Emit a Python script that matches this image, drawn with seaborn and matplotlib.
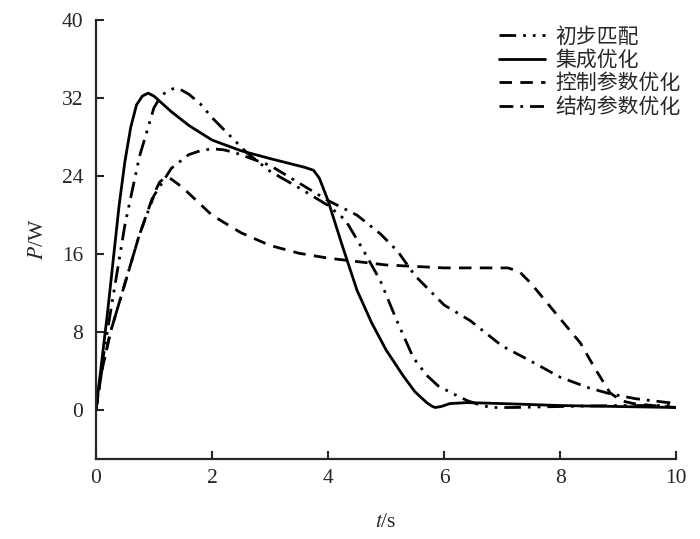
import matplotlib
matplotlib.use("Agg")
import matplotlib.pyplot as plt
import pandas as pd
import seaborn as sns

# time points (s) and power (W)
t_init = [0, 0.1, 0.25, 0.5, 0.75, 1.0, 1.1, 1.2, 1.3, 1.36, 1.45, 1.6, 1.8, 2.0, 2.3, 2.6, 3.0,
          3.5, 4.0, 4.3, 4.6, 4.9, 5.2, 5.47, 5.7, 5.9, 6.16, 6.4, 6.6, 6.8, 7.2, 8.0, 9.0, 10.0]
p_init = [0, 4.5, 10, 19, 26, 31, 32.0, 32.6, 32.9, 33.0, 32.9, 32.4, 31.4, 30.0, 28.2, 26.4, 24.5,
          22.8, 21.0, 19.5, 16.5, 13.3, 9.0, 5.4, 3.6, 2.5, 1.7, 1.0, 0.6, 0.3, 0.3, 0.4, 0.5, 0.5]

t_integ = [0, 0.1, 0.2, 0.3, 0.4, 0.5, 0.6, 0.7, 0.8, 0.9, 1.0, 1.15, 1.3, 1.6, 2.0, 2.5, 3.0, 3.4,
           3.6, 3.75, 3.85, 4.0, 4.25, 4.5, 4.75, 5.0, 5.3, 5.5, 5.7, 5.8, 5.85, 5.95, 6.1, 6.4,
           7.0, 8.0, 9.0, 10.0]
p_integ = [0, 5, 10, 15.5, 21, 25.5, 29, 31.3, 32.2, 32.5, 32.2, 31.4, 30.6, 29.2, 27.7, 26.6, 25.8,
           25.2, 24.9, 24.6, 23.8, 21.5, 16.8, 12.3, 9.0, 6.2, 3.5, 1.9, 0.8, 0.4, 0.3, 0.4, 0.7, 0.8,
           0.7, 0.5, 0.4, 0.3]

t_ctrl = [0, 0.1, 0.25, 0.5, 0.75, 1.0, 1.1, 1.2, 1.3, 1.5, 2.0, 2.5, 3.0, 3.5, 4.0, 5.0, 6.0, 6.8,
          7.1, 7.3, 7.5, 7.75, 8.0, 8.35, 8.6, 8.86, 9.05, 9.26, 9.6, 10.0]
p_ctrl = [0, 4, 8, 13, 18, 22.2, 23.4, 23.9, 23.7, 22.8, 20.0, 18.2, 16.9, 16.1, 15.6, 14.9, 14.6,
          14.6, 14.6, 14.2, 13.0, 11.2, 9.4, 6.9, 4.3, 1.8, 1.0, 0.7, 0.5, 0.3]

t_struct = [0, 0.1, 0.25, 0.5, 0.75, 1.0, 1.3, 1.6, 1.8, 2.0, 2.2, 2.4, 3.0, 3.5, 4.0, 4.5, 4.9,
            5.2, 5.5, 6.0, 6.45, 7.0, 7.48, 8.0, 8.5, 8.86, 9.3, 10.0]
p_struct = [0, 4, 8, 13, 18, 22.0, 24.8, 26.2, 26.6, 26.8, 26.7, 26.4, 25.1, 23.3, 21.5, 20.0, 18.1,
            16.3, 13.8, 10.8, 9.2, 6.6, 5.1, 3.4, 2.3, 1.7, 1.2, 0.7]

labels = ["初步匹配", "集成优化", "控制参数优化", "结构参数优化"]
series = [(t_init, p_init), (t_integ, p_integ), (t_ctrl, p_ctrl), (t_struct, p_struct)]
dash_styles = [(6, 2.5, 1.0, 2.5, 1.0, 2.5), "", (4.5, 3), (5, 2.5, 1.0, 2.5)]

sns.set_style("ticks")
plt.rcParams["font.family"] = ["Liberation Serif", "Noto Sans CJK SC"]
plt.rcParams["mathtext.fontset"] = "stix"

fig, ax = plt.subplots(figsize=(7, 5.39), dpi=100)
fig.subplots_adjust(left=0.137, right=0.966, bottom=0.148, top=0.963)

for (tt, pp), lab, ds in zip(series, labels, dash_styles):
    df = pd.DataFrame({"t": tt, "P": pp})
    sns.lineplot(data=df, x="t", y="P", ax=ax, color="black", linewidth=2.0,
                 label=lab, sort=False, estimator=None)
    if ds != "":
        ax.lines[-1].set_dashes(ds)

ax.set_xlim(0, 10)
ax.set_ylim(-5, 40)
ax.set_xticks([0, 2, 4, 6, 8, 10])
ax.set_yticks([0, 8, 16, 24, 32, 40])
ax.tick_params(direction="in", length=6, width=1.5, labelsize=15.5)
ax.tick_params(axis="y", pad=9)
ax.tick_params(axis="x", pad=7)
for s in ["left", "bottom"]:
    ax.spines[s].set_linewidth(1.6)
sns.despine(ax=ax)

ax.set_xlabel("$t$/s", fontsize=15.5, labelpad=18)
ax.set_ylabel("$P$/W", fontsize=15.5, labelpad=10)

leg = ax.legend(loc="upper right", bbox_to_anchor=(1.04, 1.025), frameon=False, fontsize=15,
                handlelength=2.2, labelspacing=0.18, handletextpad=0.5)
for h in leg.get_lines():
    h.set_linewidth(2.0)

fig.savefig("out.png", dpi=100)
